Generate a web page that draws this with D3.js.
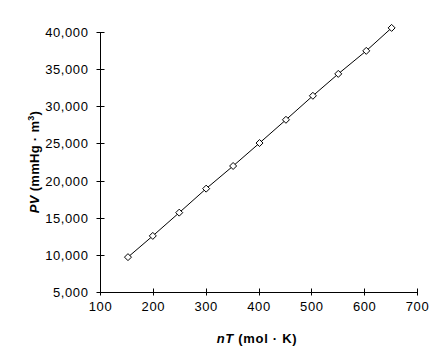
<!DOCTYPE html>
<html><head><meta charset="utf-8">
<script src="https://cdn.jsdelivr.net/npm/d3@7"></script>
<style>
html,body{margin:0;padding:0;background:#fff;}
svg{display:block;}
text{font-family:"Liberation Sans",Arial,sans-serif;fill:#000;}
</style></head>
<body>
<script>
const nT = [152, 199, 249, 300, 351, 401, 451, 502, 550, 603, 651];
const PV = [9760, 12620, 15750, 18980, 22030, 25120, 28250, 31480, 34430, 37530, 40620];
const xTicks = [100, 200, 300, 400, 500, 600, 700];
const yTicks = [5000, 10000, 15000, 20000, 25000, 30000, 35000, 40000];

const W = 444, H = 357;
const svg = d3.select("body").append("svg").attr("width", W).attr("height", H);
const x = d3.scaleLinear().domain([100, 700]).range([100.5, 417.5]);
const y = d3.scaleLinear().domain([5000, 40000]).range([292.5, 32.5]);
const fmt = d3.format(",");
const px = v => Math.round(v - 0.5) + 0.5;

// Axis lines
svg.append("path")
  .attr("d", `M${px(x(100))},${px(y(40000))}V${px(y(5000))}H${px(x(700))}`)
  .attr("fill", "none").attr("stroke", "#000").attr("stroke-width", 1);

// X ticks
svg.append("path")
  .attr("d", xTicks.map(d => `M${px(x(d))},${px(y(5000)) - 4}v7`).join(""))
  .attr("fill", "none").attr("stroke", "#000").attr("stroke-width", 1);
svg.append("g").selectAll("text").data(xTicks).join("text")
  .attr("x", d => x(d)).attr("y", 310.5).attr("text-anchor", "middle")
  .style("font-size", "13px").style("letter-spacing", "0.6px").text(d => d);

// Y ticks
svg.append("path")
  .attr("d", yTicks.map(d => `M${px(x(100)) - 4},${px(y(d))}h8`).join(""))
  .attr("fill", "none").attr("stroke", "#000").attr("stroke-width", 1);
svg.append("g").selectAll("text").data(yTicks).join("text")
  .attr("x", 88.5).attr("y", d => y(d) + 4.5).attr("text-anchor", "end")
  .style("font-size", "13px").style("letter-spacing", "0.6px").text(d => fmt(d));

// Line
const pts = nT.map((d, i) => [d, PV[i]]);
svg.append("path").datum(pts)
  .attr("fill", "none").attr("stroke", "#000").attr("stroke-width", 1)
  .attr("d", d3.line().x(d => x(d[0])).y(d => y(d[1])));

// Markers
svg.append("g").selectAll("path").data(pts).join("path")
  .attr("transform", d => `translate(${x(d[0])},${y(d[1])})`)
  .attr("d", "M0,-3.5L3.5,0L0,3.5L-3.5,0Z")
  .attr("fill", "#fff").attr("stroke", "#000").attr("stroke-width", 1);

// X title
const xt = svg.append("text").attr("x", 257).attr("y", 343).attr("text-anchor", "middle")
  .style("font-size", "13px").style("font-weight", "bold").style("letter-spacing", "0.7px");
xt.append("tspan").style("font-style", "italic").text("nT");
xt.append("tspan").text(" (mol · K)");

// Y title
const yt = svg.append("text").attr("transform", "translate(39,162) rotate(-90)")
  .attr("text-anchor", "middle").style("font-size", "13px").style("font-weight", "bold")
  .style("letter-spacing", "0.3px");
yt.append("tspan").style("font-style", "italic").text("PV");
yt.append("tspan").text(" (mmHg · m");
yt.append("tspan").attr("dy", -5).style("font-size", "9px").text("3");
yt.append("tspan").attr("dy", 5).text(")");
</script>
</body></html>
